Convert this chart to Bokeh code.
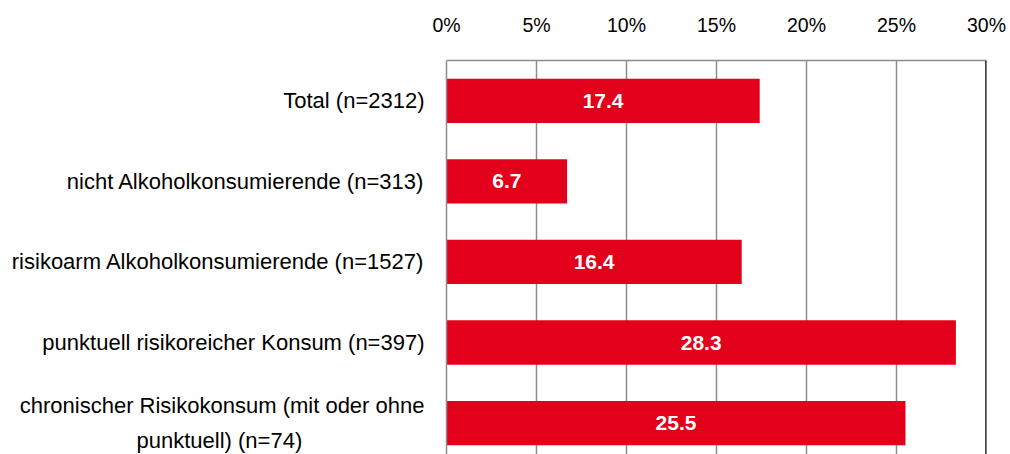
from bokeh.plotting import figure
from bokeh.models import Range1d, FixedTicker, Span, ColumnDataSource, CustomJSTickFormatter
from bokeh.core.properties import value
from bokeh.embed import file_html
from bokeh.resources import INLINE

categories = [
    "Total (n=2312)",
    "nicht Alkoholkonsumierende (n=313)",
    "risikoarm Alkoholkonsumierende (n=1527)",
    "punktuell risikoreicher Konsum (n=397)",
    "chronischer Risikokonsum (mit oder ohne\npunktuell) (n=74)",
]
values = [17.4, 6.7, 16.4, 28.3, 25.5]
x_ticks = [0, 5, 10, 15, 20, 25, 30]

FONT = "Liberation Sans"
RED = "#E2001A"
GRID = "#8c8c8c"

pos = list(range(len(categories)))
src = ColumnDataSource(dict(
    y=pos, v=values, mid=[v / 2 for v in values],
    lab=[f"{v:.1f}" for v in values],
))

p = figure(width=1010, height=454, output_backend="svg", toolbar_location=None,
           x_range=Range1d(0, 30), y_range=Range1d(4.39, -0.5),
           x_axis_location="above", min_border_left=446, min_border_right=24,
           min_border_top=60, min_border_bottom=0)
p.outline_line_color = None
p.background_fill_color = "white"

p.hbar(y="y", left=0, right="v", height=0.55, source=src, color=RED, line_color=None)
p.text(x="mid", y="y", text="lab", source=src, text_color="white",
       text_font=value(FONT), text_font_style="bold", text_font_size="21px",
       text_align="center", text_baseline="middle")

# grid
p.ygrid.grid_line_color = None
p.xgrid.ticker = FixedTicker(ticks=x_ticks)
p.xgrid.grid_line_color = GRID
p.xgrid.grid_line_width = 1.5

# top axis
xa = p.xaxis[0]
xa.ticker = FixedTicker(ticks=x_ticks)
xa.formatter = CustomJSTickFormatter(code="return tick + '%';")
xa.axis_line_color = GRID
xa.axis_line_width = 1.5
xa.major_tick_line_color = None
xa.major_tick_out = 0
xa.major_tick_in = 0
xa.minor_tick_line_color = None
xa.major_label_text_font = FONT
xa.major_label_text_font_size = "19.5px"
xa.major_label_text_color = "black"
xa.major_label_standoff = 25

# left axis; the two-line label's second line is padded so it sits centred
def centre_lines(text, pad_chars):
    if "\n" not in text:
        return text
    first, second = text.split("\n")
    return first + "\n" + second + "\u00a0" * pad_chars

ya = p.yaxis[0]
ya.ticker = FixedTicker(ticks=pos)
ya.major_label_overrides = {i: centre_lines(c, 20) for i, c in zip(pos, categories)}
ya.axis_line_color = GRID
ya.axis_line_width = 1.5
ya.major_tick_line_color = None
ya.major_tick_out = 0
ya.major_tick_in = 0
ya.minor_tick_line_color = None
ya.major_label_text_font = FONT
ya.major_label_text_font_size = "22px"
ya.major_label_text_line_height = 1.4
ya.major_label_text_color = "black"
ya.major_label_standoff = 22

p.add_layout(Span(location=30, dimension="height", line_color="black", line_width=2.5))

open("out.html", "w").write(file_html(p, INLINE))
